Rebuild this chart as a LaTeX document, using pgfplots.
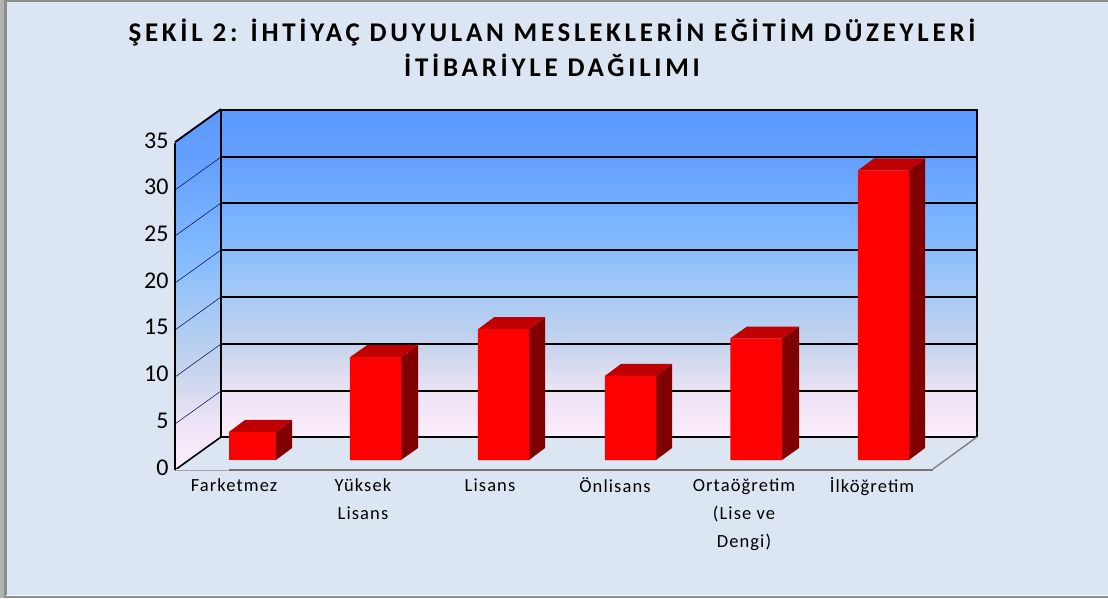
\documentclass[border=0pt]{standalone}
\usepackage{pgfplots}
\pgfplotsset{compat=1.18}
\usepackage{fontspec}
\setmainfont{Carlito}
\newfontfamily\titlefont[LetterSpace=13.8,Ligatures=NoCommon]{Carlito Bold}
\newfontfamily\catfont[LetterSpace=6]{Carlito}
\newcommand\Lh{\rule{0pt}{14pt}}
\definecolor{bgc}{HTML}{DCE6F2}
\definecolor{frontc}{HTML}{FF0000}
\definecolor{topc}{HTML}{BE0000}
\definecolor{sidec}{HTML}{800000}
\definecolor{wa}{HTML}{FDEDFB}
\definecolor{wa2}{HTML}{ECE3F5}
\definecolor{wb}{HTML}{C6D4EC}
\definecolor{wc}{HTML}{A4C8F5}
\definecolor{wd}{HTML}{82BAFF}
\definecolor{we}{HTML}{64A0FF}
\definecolor{wf}{HTML}{5B9AFF}
\pgfdeclareverticalshading{wallshade}{100bp}{
  color(0bp)=(wa);
  color(25bp)=(wa);
  color(32bp)=(wa2);
  color(39bp)=(wb);
  color(47.5bp)=(wc);
  color(55bp)=(wd);
  color(67.5bp)=(we);
  color(75bp)=(wf);
  color(100bp)=(wf)}
\begin{document}
\begin{tikzpicture}[x=1pt,y=1pt]
\useasboundingbox (0,0) rectangle (1108,598);
\fill[gray!90] (0,0) rectangle (1108,598);
\fill[gray!60] (0,0) rectangle (4,598);
\fill[white] (6,2) rectangle (1108,3);
\fill[bgc] (6.5,3) rectangle (1108,596);
% walls
\begin{scope}[shift={(175,128)},yslant=0.717]
\shade[shading=wallshade] (0,0) rectangle (46,327);
\end{scope}
\shade[shading=wallshade] (221,161) rectangle (977,488);
% grid
\foreach \yb [count=\k from 0] in {161,207,254,301,348,395,441,488}{
  \pgfmathsetmacro\yf{\yb-33}
  \draw[black!70!blue,line width=0.5pt] (175,\yf) -- (221,\yb);
  \draw[black,line width=1.8pt] (221,\yb) -- (977,\yb);
}
\draw[black,line width=1.6pt] (221,161) -- (221,488);
\draw[black,line width=1.6pt] (977,161) -- (977,489);
\draw[black,line width=1.6pt] (175,456) -- (221,489);
\draw[black,line width=1.6pt] (175,128) -- (221,161);
\draw[gray,line width=1.4pt] (933,129) -- (977,161);
% title
\node[align=center,font=\titlefont\fontsize{27}{35}\selectfont,anchor=center] at (552,550)
  {ŞEKİL 2: İHTİYAÇ DUYULAN MESLEKLERİN EĞİTİM DÜZEYLERİ\\İTİBARİYLE DAĞILIMI};
\begin{axis}[
  at={(175pt,128pt)},anchor=origin,
  scale only axis,width=758pt,height=327pt,
  xmin=175,xmax=933,ymin=0,ymax=35,
  clip=false,
  axis x line*=bottom,axis y line*=left,
  axis line style={-},
  x axis line style={draw=gray!90!black,line width=1.6pt},
  y axis line style={draw=black,line width=1.6pt},
  xtick={234,363,490,615,744,872},
  xticklabels={\Lh Farketmez,\Lh Yüksek\\Lisans,\Lh Lisans,\Lh Önlisans,\Lh Ortaöğretim\\(Lise ve\\Dengi),\Lh İlköğretim},
  x tick label style={font=\catfont\fontsize{18.5}{28}\selectfont,align=center,anchor=north,yshift=-4pt},
  ytick={0,5,...,35},
  tick style={draw=none},
  y tick label style={font=\fontsize{24}{24}\selectfont,anchor=east,xshift=-3pt,yshift=2.5pt},
  /pgf/number format/assume math mode=true,
]
% side faces
\addplot[fill=sidec,draw=none,yshift=10pt] coordinates {(276,0)(276,3)(292,4.285)(292,1.285)} -- cycle;
\addplot[fill=sidec,draw=none,yshift=10pt] coordinates {(401,0)(401,11)(418,12.285)(418,1.285)} -- cycle;
\addplot[fill=sidec,draw=none,yshift=10pt] coordinates {(529,0)(529,14)(545,15.285)(545,1.285)} -- cycle;
\addplot[fill=sidec,draw=none,yshift=10pt] coordinates {(656,0)(656,9)(672,10.285)(672,1.285)} -- cycle;
\addplot[fill=sidec,draw=none,yshift=10pt] coordinates {(782,0)(782,13)(799,14.285)(799,1.285)} -- cycle;
\addplot[fill=sidec,draw=none,yshift=10pt] coordinates {(909,0)(909,31)(925,32.285)(925,1.285)} -- cycle;
% top faces
\addplot[fill=topc,draw=none,yshift=10pt] coordinates {(229,3)(276,3)(292,4.285)(245,4.285)} -- cycle;
\addplot[fill=topc,draw=none,yshift=10pt] coordinates {(350,11)(401,11)(418,12.285)(367,12.285)} -- cycle;
\addplot[fill=topc,draw=none,yshift=10pt] coordinates {(478,14)(529,14)(545,15.285)(494,15.285)} -- cycle;
\addplot[fill=topc,draw=none,yshift=10pt] coordinates {(605,9)(656,9)(672,10.285)(621,10.285)} -- cycle;
\addplot[fill=topc,draw=none,yshift=10pt] coordinates {(730,13)(782,13)(799,14.285)(747,14.285)} -- cycle;
\addplot[fill=topc,draw=none,yshift=10pt] coordinates {(858,31)(909,31)(925,32.285)(874,32.285)} -- cycle;
% front faces
\addplot[ybar,bar shift=0pt,bar width=47pt,fill=frontc,draw=none,yshift=10pt] coordinates {(252.5,3)};
\addplot[ybar,bar shift=0pt,bar width=51.5pt,fill=frontc,draw=none,yshift=10pt] coordinates {(375.5,11)(503.5,14)(630.5,9)(756,13)(883.5,31)};
\end{axis}
\fill[bgc] (176,126.5) rectangle (229,129.5);
\draw[gray!70,line width=0.7pt] (176,128) -- (229,128);
\end{tikzpicture}
\end{document}
